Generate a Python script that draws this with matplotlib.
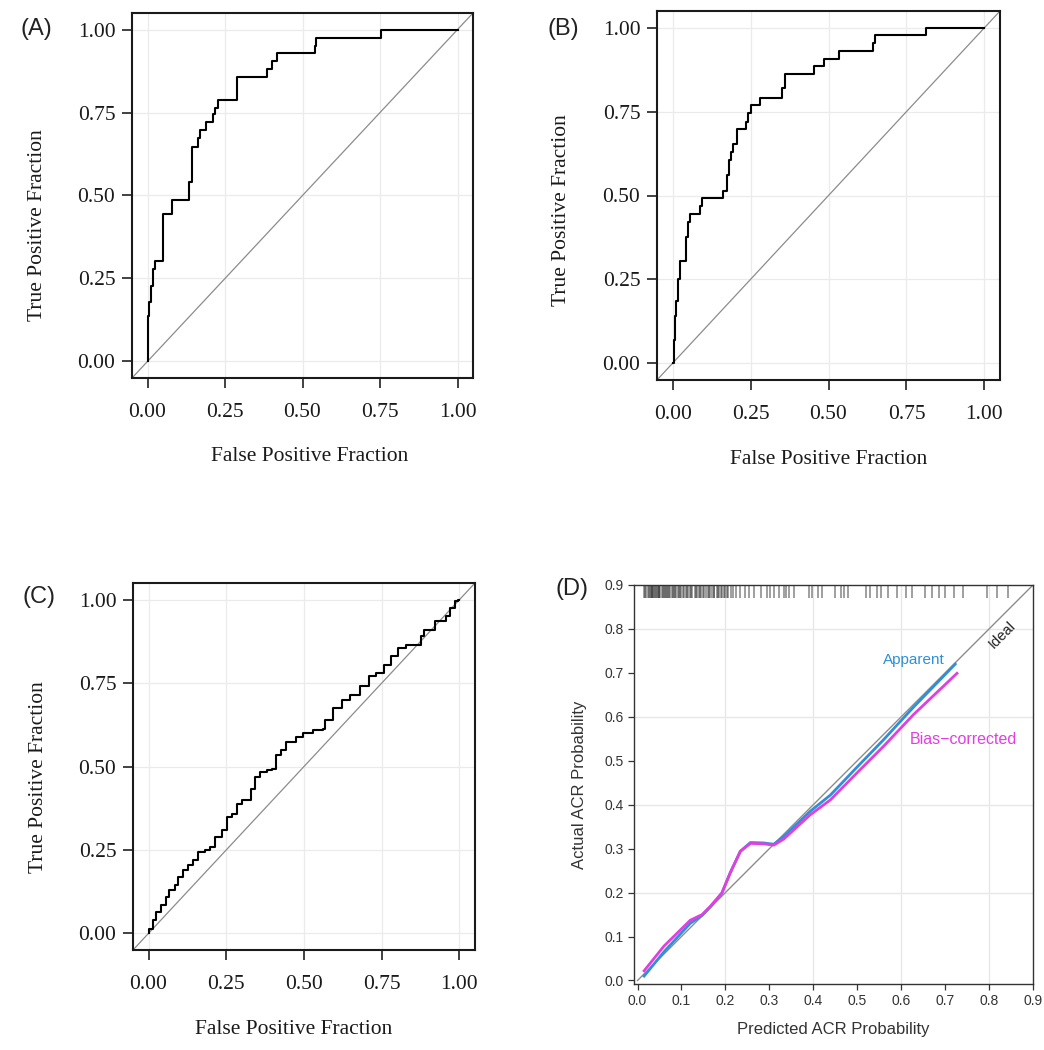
import matplotlib.pyplot as plt

# ROC curve (A): step vertices, fpr of each rise and tpr after it
a_fpr = [0.0, 0.0, 0.005, 0.011, 0.017, 0.023, 0.05, 0.08, 0.134, 0.145, 0.164, 0.17,
         0.19, 0.21, 0.219, 0.226, 0.289, 0.385, 0.401, 0.419, 0.539, 0.542, 0.753, 1.0]
a_tpr = [0.0, 0.136, 0.18, 0.227, 0.278, 0.302, 0.444, 0.485, 0.54, 0.645, 0.673, 0.697,
         0.72, 0.745, 0.765, 0.789, 0.856, 0.881, 0.905, 0.93, 0.952, 0.975, 1.0, 1.0]

# ROC curve (B)
b_fpr = [0.0, 0.003, 0.007, 0.012, 0.018, 0.025, 0.044, 0.05, 0.056, 0.088, 0.095, 0.163,
         0.175, 0.182, 0.188, 0.195, 0.205, 0.236, 0.242, 0.25, 0.281, 0.352, 0.36, 0.453,
         0.485, 0.533, 0.642, 0.65, 0.813, 1.0]
b_tpr = [0.0, 0.07, 0.14, 0.186, 0.25, 0.305, 0.375, 0.42, 0.445, 0.47, 0.492, 0.513,
         0.56, 0.605, 0.63, 0.655, 0.697, 0.72, 0.745, 0.769, 0.791, 0.819, 0.862, 0.886,
         0.908, 0.932, 0.954, 0.979, 1.0, 1.0]

# ROC curve (C)
c_fpr = [0.0, 0.0, 0.013, 0.024, 0.04, 0.057, 0.067, 0.084, 0.094, 0.111, 0.127, 0.143,
         0.16, 0.181, 0.198, 0.214, 0.236, 0.252, 0.268, 0.285, 0.301, 0.317, 0.328, 0.344,
         0.36, 0.382, 0.398, 0.409, 0.426, 0.442, 0.475, 0.496, 0.529, 0.561, 0.567, 0.594,
         0.621, 0.648, 0.681, 0.708, 0.73, 0.757, 0.779, 0.801, 0.828, 0.86, 0.876, 0.887,
         0.92, 0.958, 0.968, 0.985, 0.996, 1.0]
c_tpr = [0.0, 0.014, 0.039, 0.064, 0.084, 0.109, 0.129, 0.144, 0.169, 0.189, 0.204, 0.219,
         0.244, 0.249, 0.259, 0.289, 0.309, 0.349, 0.359, 0.389, 0.399, 0.401, 0.434, 0.469,
         0.484, 0.489, 0.494, 0.534, 0.549, 0.574, 0.589, 0.599, 0.609, 0.612, 0.64, 0.675,
         0.70, 0.715, 0.74, 0.77, 0.78, 0.805, 0.83, 0.855, 0.865, 0.865, 0.89, 0.91,
         0.935, 0.95, 0.975, 0.995, 1.0, 1.0]

roc_ticks = [0.0, 0.25, 0.5, 0.75, 1.0]
roc_labels = ['0.00', '0.25', '0.50', '0.75', '1.00']

# Calibration curve (D)
d_pred_app = [0.015, 0.06, 0.12, 0.147, 0.166, 0.192, 0.211, 0.234, 0.257, 0.287, 0.31,
              0.333, 0.393, 0.439, 0.499, 0.56, 0.628, 0.723]
d_act_app = [0.01, 0.065, 0.13, 0.148, 0.168, 0.199, 0.245, 0.294, 0.314, 0.313, 0.31,
             0.328, 0.385, 0.422, 0.485, 0.548, 0.622, 0.72]
d_pred_bc = [0.015, 0.06, 0.12, 0.147, 0.166, 0.192, 0.211, 0.234, 0.257, 0.287, 0.31,
             0.333, 0.393, 0.439, 0.499, 0.56, 0.628, 0.727]
d_act_bc = [0.022, 0.078, 0.137, 0.15, 0.169, 0.199, 0.245, 0.294, 0.312, 0.311, 0.308,
            0.322, 0.377, 0.411, 0.472, 0.533, 0.605, 0.699]
d_rug = [0.014, 0.017, 0.02, 0.023, 0.025, 0.028, 0.03, 0.032, 0.034, 0.036, 0.038, 0.04,
         0.042, 0.044, 0.046, 0.048, 0.05, 0.052, 0.055, 0.058, 0.06, 0.062, 0.064, 0.066,
         0.07, 0.072, 0.074, 0.078, 0.08, 0.083, 0.086, 0.088, 0.092, 0.095, 0.097, 0.1,
         0.103, 0.105, 0.11, 0.113, 0.115, 0.12, 0.122, 0.125, 0.13, 0.132, 0.135, 0.14,
         0.143, 0.145, 0.15, 0.152, 0.155, 0.16, 0.163, 0.165, 0.17, 0.173, 0.175, 0.18,
         0.183, 0.186, 0.19, 0.193, 0.196, 0.2, 0.203, 0.206, 0.212, 0.218, 0.224, 0.234,
         0.245, 0.253, 0.264, 0.28, 0.295, 0.302, 0.31, 0.321, 0.333, 0.338, 0.344, 0.355,
         0.39, 0.398, 0.41, 0.42, 0.45, 0.462, 0.47, 0.48, 0.52, 0.53, 0.545, 0.555, 0.57,
         0.59, 0.61, 0.625, 0.655, 0.67, 0.685, 0.7, 0.72, 0.74, 0.795, 0.817, 0.844]
d_ticks = [0.0, 0.1, 0.2, 0.3, 0.4, 0.5, 0.6, 0.7, 0.8, 0.9]
d_grid = [0.2, 0.4, 0.6, 0.8]

serif = ['Liberation Serif', 'DejaVu Serif']
sans = ['Liberation Sans', 'DejaVu Sans']
W, H = 1044, 1050

fig = plt.figure(figsize=(W / 100, H / 100), dpi=100)


def rect(left, top, right, bottom):
    return [left / W, 1 - bottom / H, (right - left) / W, (bottom - top) / H]


def roc_panel(r, fpr, tpr, ylab_y, xlab_x):
    ax = fig.add_axes(r)
    ax.set_xlim(-0.05, 1.05)
    ax.set_ylim(-0.05, 1.05)
    for t in roc_ticks:
        ax.axvline(t, color='#ebebeb', lw=0.9, zorder=0)
        ax.axhline(t, color='#ebebeb', lw=0.9, zorder=0)
    ax.plot([-0.05, 1.05], [-0.05, 1.05], color='#8c8c8c', lw=0.9)
    ax.step(fpr, tpr, where='post', color='black', lw=1.5)
    ax.set_xticks(roc_ticks)
    ax.set_xticklabels(roc_labels, family=serif, fontsize=15.5, color='#1a1a1a')
    ax.set_yticks(roc_ticks)
    ax.set_yticklabels(roc_labels, family=serif, fontsize=15.5, color='#1a1a1a')
    ax.tick_params(axis='both', length=7, width=1.3, color='#333333')
    ax.tick_params(axis='x', pad=11)
    ax.tick_params(axis='y', pad=5)
    for s in ax.spines.values():
        s.set_linewidth(1.5)
        s.set_color('#1a1a1a')
    ax.set_xlabel('False Positive Fraction', family=serif, fontsize=15.5, color='#1a1a1a')
    ax.set_ylabel('True Positive Fraction', family=serif, fontsize=15.5, color='#1a1a1a')
    ax.xaxis.set_label_coords(xlab_x, -0.19)
    ax.yaxis.set_label_coords(-0.25, ylab_y)
    return ax


roc_panel(rect(132, 13, 473, 378), a_fpr, a_tpr, 0.42, 0.52)
roc_panel(rect(657, 11, 1000, 380), b_fpr, b_tpr, 0.46, 0.50)
roc_panel(rect(133, 583, 475, 950), c_fpr, c_tpr, 0.47, 0.47)

# calibration panel
ax = fig.add_axes(rect(634, 585, 1033, 984))
ax.set_xlim(-0.008, 0.9)
ax.set_ylim(-0.008, 0.9)
for g in d_grid:
    ax.axvline(g, color='#e6e6e6', lw=0.9, zorder=0)
    ax.axhline(g, color='#e6e6e6', lw=0.9, zorder=0)
ax.plot([0, 0.9], [0, 0.9], color='#8c8c8c', lw=1.0)
ax.plot(d_pred_app, d_act_app, color='#2f8fd8', lw=2.0)
ax.plot(d_pred_bc, d_act_bc, color='#e23ee0', lw=2.0)
ax.vlines(d_rug, 0.87, 0.9, color='#222222', lw=1.1, alpha=0.55)
ax.text(0.628, 0.73, 'Apparent', color='#2f8fd8', fontsize=11, family=sans,
        ha='center', va='center')
ax.text(0.742, 0.548, 'Bias\u2212corrected', color='#e23ee0', fontsize=11.5, family=sans,
        ha='center', va='center')
ax.text(0.829, 0.786, 'Ideal', color='#222222', fontsize=10.5, family=sans,
        ha='center', va='center', rotation=45)
ax.set_xticks(d_ticks)
ax.set_xticklabels([f'{t:.1f}' for t in d_ticks], family=sans, fontsize=10, color='#333333')
ax.set_yticks(d_ticks)
ax.set_yticklabels([f'{t:.1f}' for t in d_ticks], family=sans, fontsize=10, color='#333333')
ax.tick_params(axis='both', length=4.5, width=0.9, color='#333333', pad=3)
for s in ax.spines.values():
    s.set_linewidth(1.0)
    s.set_color('#333333')
ax.set_xlabel('Predicted ACR Probability', family=sans, fontsize=12, color='#333333')
ax.set_ylabel('Actual ACR Probability', family=sans, fontsize=12, color='#333333')
ax.xaxis.set_label_coords(0.5, -0.094)
ax.yaxis.set_label_coords(-0.119, 0.5)

# panel letters
for letter, x, y in [('(A)', 36, 29), ('(B)', 563, 29), ('(C)', 39, 597), ('(D)', 572, 589)]:
    fig.text(x / W, 1 - y / H, letter, ha='center', va='center', fontsize=17,
             family=sans, color='#222222')

plt.savefig('out.png', dpi=100)
